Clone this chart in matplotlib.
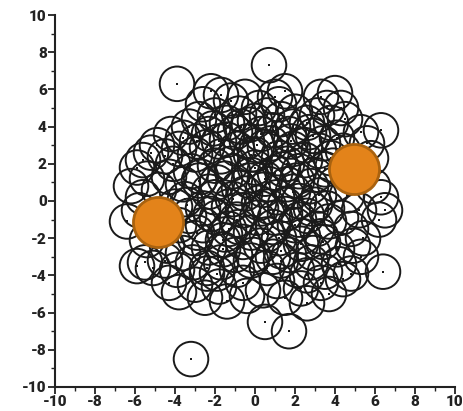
import numpy as np
import matplotlib
matplotlib.use('Agg')
import matplotlib.pyplot as plt
from matplotlib.ticker import MultipleLocator

plt.rcParams['font.family'] = ['Roboto', 'DejaVu Sans']
plt.rcParams['font.weight'] = 'heavy'
plt.rcParams['axes.unicode_minus'] = False

# circle centres (x, y)
circ_x = [-3.9, 0.7, -2.2, -1.7, -1.2, -0.5, 1.0, 1.5, 1.2, 3.3, 4.0, 3.6, 4.3, -2.6, 0.2,
          -3.3, -2.8, -2.0, -1.4, -0.8, 0.0, 0.6, 1.3, 2.0, 2.6, 3.1, 3.8, 4.5, 5.3, 6.3,
          -4.2, -3.6, -2.3, -1.0, 0.3, 1.7, 2.9, 4.1, 5.6, -4.9,
          -5.6, -5.9, -5.2, -4.5, -3.8, -3.0, -2.4, -1.7, -0.9, -0.2, 0.5, 1.2, 1.9, 2.5, 3.2,
          3.8, 4.4, 5.8, -4.1, -2.0, 0.0, 2.2, 3.5, -3.2, 1.0,
          -6.2, -5.4, -4.8, -4.3, -3.6, -2.8, -2.3, -1.5, -0.8, -0.3, 0.4, 1.6, 2.8, 3.2, 4.0,
          5.9, 6.3, -5.6, -1.1, 1.1, 2.2, 4.6,
          -6.4, -5.8, -4.0, -3.3, -2.6, -1.9, -0.6, 0.1, 0.7, 1.5, 2.6, 3.6, 4.3, 5.2, 6.5,
          6.2, -3.8, -1.3, 0.9, 2.0, 3.1, 4.8,
          -5.4, -4.4, -3.0, -2.3, -1.6, -0.6, 0.3, 1.2, 2.3, 3.4, 4.1, 5.4, -3.6, -0.2, 2.9,
          4.9, 1.7, -1.0,
          -5.9, -5.5, -5.1, -4.5, -3.9, -3.1, -2.4, -1.7, -0.9, -0.2, 0.6, 1.3, 2.1, 2.8, 3.5,
          4.2, 5.3, 6.4, 4.8,
          -4.3, -3.8, -3.0, -2.5, -1.8, -1.4, -0.6, -0.4, 0.4, 1.1, 1.5, 2.3, 2.6, 3.3, 3.7, 4.4,
          0.5, 1.7, -3.2,
          -1.2, 0.8, -0.4, 1.5, -2.0, 0.2, -0.9, 0.5, -2.6, 2.5, -1.8, 3.0, 1.9, -0.3, -2.9,
          2.4, -1.5, 0.0,
          -2.1, -1.4, -0.7, 0.1, 0.9, 1.8, 2.7, 3.4, -2.7, -1.9, -1.1, -0.2, 0.7, 1.4, 2.1, 3.0,
          3.9, -3.4, -2.2, -1.3, -0.5, 0.3, 1.0, 1.9, 2.8, 3.7, -2.9, -1.6, -0.8, 0.6, 1.3, 2.2,
          3.3, -3.5, -0.1, 1.6, -1.9, 0.9, 2.6, -2.4]
circ_y = [6.3, 7.3, 5.9, 5.7, 5.4, 5.6, 5.6, 5.9, 5.2, 5.6, 5.8, 5.0, 5.0, 5.2, 5.0,
          4.0, 4.4, 4.6, 4.2, 4.7, 4.3, 4.6, 4.4, 4.8, 4.2, 4.6, 4.2, 4.4, 3.7, 3.8,
          3.6, 3.4, 3.6, 3.7, 3.6, 3.6, 3.5, 3.4, 3.1, 3.0,
          2.2, 1.8, 2.6, 2.4, 2.8, 2.5, 2.9, 2.4, 2.8, 2.5, 2.9, 2.3, 2.8, 2.2, 2.7,
          2.3, 2.7, 2.3, 2.0, 1.9, 1.8, 1.6, 1.7, 1.6, 1.5,
          0.8, 1.2, 0.6, 1.3, 0.9, 1.1, 0.5, 1.2, 0.7, 1.1, 0.6, 0.9, 0.8, 0.3, 0.9,
          0.8, 0.2, 0.2, 0.1, 0.2, 0.0, 0.3,
          -1.1, -0.5, -0.3, -0.8, -0.4, -0.9, -0.5, -0.9, -0.3, -0.7, -0.8, -0.4, -0.9, -0.5, -0.5,
          -1.0, -1.3, -1.5, -1.4, -1.3, -1.5, -1.5,
          -2.1, -2.4, -2.0, -2.5, -2.1, -2.2, -2.4, -2.0, -2.3, -2.2, -2.6, -2.0, -2.8, -1.7, -2.8,
          -2.4, -2.9, -2.9,
          -3.5, -3.3, -3.6, -3.2, -3.7, -3.3, -3.6, -3.3, -3.7, -3.2, -3.6, -3.2, -3.7, -3.3, -3.8,
          -3.4, -3.0, -3.8, -3.9,
          -4.4, -4.9, -4.5, -5.2, -4.6, -5.4, -4.4, -5.1, -4.8, -4.3, -5.2, -4.7, -5.5, -4.4, -5.0, -4.2,
          -6.5, -7.0, -8.5,
          2.0, 3.1, 3.2, -0.2, 0.2, -0.1, -1.0, 1.2, -1.3, 3.0, 3.2, -0.2, 4.0, 4.1, 3.2,
          -1.9, -1.8, 2.5,
          3.9, 3.3, 4.0, 3.0, 3.8, 3.2, 3.7, 3.1, 1.3, 1.0, 1.6, 1.4, 0.9, 1.7, 1.1, 1.4,
          1.9, -0.2, -0.7, -0.3, 0.4, -0.4, -0.9, 0.5, -0.4, -1.1, -1.7, -2.6, -1.4, -1.8, -2.7, -1.0,
          -1.9, 0.1, -2.9, 2.0, -3.9, -3.0, -4.0, -3.9]

# the two highlighted (orange) points
hi_x = [-4.85, 4.95]
hi_y = [-1.13, 1.72]

fig = plt.figure(figsize=(4.63, 4.11), dpi=100)
ax = fig.add_axes([0.1188, 0.0584, 0.8639, 0.9051])

ax.scatter(circ_x, circ_y, s=620, facecolors='none', edgecolors='#1a1a1a',
           linewidths=1.4, zorder=2)
ax.scatter(circ_x, circ_y, s=3, color='#1a1a1a', marker='s', linewidths=0, zorder=2)
ax.scatter(hi_x, hi_y, s=1300, color='#E3831A', edgecolors='#A9620F',
           linewidths=2, zorder=3)

ax.set_xlim(-10, 10)
ax.set_ylim(-10, 10)
ax.xaxis.set_major_locator(MultipleLocator(2))
ax.yaxis.set_major_locator(MultipleLocator(2))
ax.xaxis.set_minor_locator(MultipleLocator(1))
ax.yaxis.set_minor_locator(MultipleLocator(1))

for s in ['top', 'right']:
    ax.spines[s].set_visible(False)
for s in ['left', 'bottom']:
    ax.spines[s].set_linewidth(1.5)
    ax.spines[s].set_color('#222222')

ax.tick_params(which='major', direction='out', length=5, width=1.3, colors='#222222',
               pad=1, labelsize=11)
ax.tick_params(which='minor', direction='out', length=3, width=1.0, colors='#222222')

fig.savefig('out.png', dpi=100)
